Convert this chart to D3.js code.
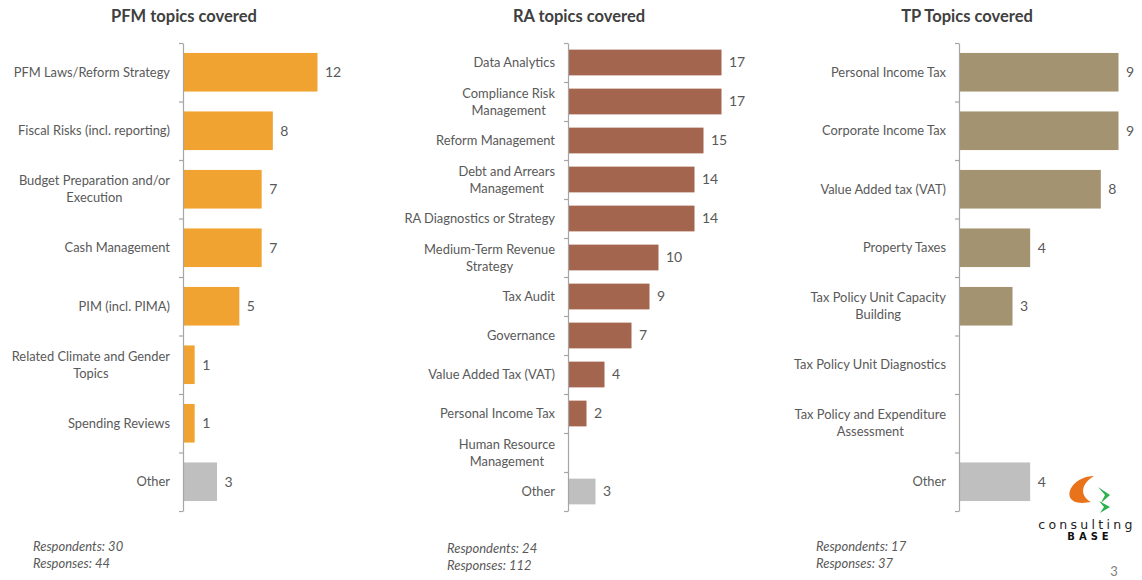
<!DOCTYPE html>
<html>
<head>
<meta charset="utf-8">
<script src="https://cdn.jsdelivr.net/npm/d3@7"></script>
<style>
  html, body { margin: 0; padding: 0; background: #ffffff; }
  svg { display: block; font-family: Lato, "Open Sans", sans-serif; }
</style>
</head>
<body>
<svg id="chart" width="1142" height="580"></svg>
<script>
// ---- Data -------------------------------------------------------------
const pfmCategories = [
  "PFM Laws/Reform Strategy",
  "Fiscal Risks (incl. reporting)",
  "Budget Preparation and/or|Execution",
  "Cash Management",
  "PIM (incl. PIMA)",
  "Related Climate and Gender|Topics",
  "Spending Reviews",
  "Other"
];
const pfmValues = [12, 8, 7, 7, 5, 1, 1, 3];

const raCategories = [
  "Data Analytics",
  "Compliance Risk|Management",
  "Reform Management",
  "Debt and Arrears|Management",
  "RA Diagnostics or Strategy",
  "Medium-Term Revenue|Strategy",
  "Tax Audit",
  "Governance",
  "Value Added Tax (VAT)",
  "Personal Income Tax",
  "Human Resource|Management",
  "Other"
];
const raValues = [17, 17, 15, 14, 14, 10, 9, 7, 4, 2, 0, 3];

const tpCategories = [
  "Personal Income Tax",
  "Corporate Income Tax",
  "Value Added tax (VAT)",
  "Property Taxes",
  "Tax Policy Unit Capacity|Building",
  "Tax Policy Unit Diagnostics",
  "Tax Policy and Expenditure|Assessment",
  "Other"
];
const tpValues = [9, 9, 8, 4, 3, 0, 0, 4];

const titles = ["PFM topics covered", "RA topics covered", "TP Topics covered"];
const respondents = [30, 24, 17];
const responses = [44, 112, 37];

// ---- Layout -----------------------------------------------------------
const svg = d3.select("#chart");
const TEXT = "#595959";
const OTHER_FILL = "#bfbfbf";

const panels = [
  { cats: pfmCategories, vals: pfmValues, title: titles[0], color: "#f0a330",
    axisX: 183, barSpan: 134, titleX: 184, noteX: 33, noteY: 551, resp: respondents[0], n: responses[0] },
  { cats: raCategories, vals: raValues, title: titles[1], color: "#a4654e",
    axisX: 568, barSpan: 153, titleX: 579, noteX: 447, noteY: 553, resp: respondents[1], n: responses[1] },
  { cats: tpCategories, vals: tpValues, title: titles[2], color: "#a39371",
    axisX: 959, barSpan: 159, titleX: 967, noteX: 816, noteY: 551, resp: respondents[2], n: responses[2] }
];

const TOP = 43, BOTTOM = 511;

panels.forEach(p => {
  const g = svg.append("g");

  const y = d3.scaleBand()
    .domain(p.cats)
    .range([TOP, BOTTOM])
    .paddingInner(0.34)
    .paddingOuter(0.17);

  const x = d3.scaleLinear()
    .domain([0, d3.max(p.vals)])
    .range([p.axisX, p.axisX + p.barSpan]);

  // title
  g.append("text")
    .attr("x", p.titleX).attr("y", 22)
    .attr("text-anchor", "middle")
    .attr("font-size", 16.5).attr("font-weight", 700)
    .attr("fill", "#404040")
    .text(p.title);

  // bars
  const rows = p.cats.map((c, i) => ({ cat: c, val: p.vals[i] }));
  g.selectAll("rect.bar").data(rows).enter().append("rect")
    .attr("class", "bar")
    .attr("x", x(0) + 0.5)
    .attr("y", d => y(d.cat))
    .attr("width", d => Math.max(0, x(d.val) - x(0)))
    .attr("height", y.bandwidth())
    .attr("fill", d => d.cat === "Other" ? OTHER_FILL : p.color);

  // value labels
  g.selectAll("text.val").data(rows.filter(d => d.val > 0)).enter().append("text")
    .attr("class", "val")
    .attr("x", d => x(d.val) + 8)
    .attr("y", d => y(d.cat) + y.bandwidth() / 2)
    .attr("dy", "0.35em")
    .attr("font-size", 14)
    .attr("fill", TEXT)
    .text(d => d.val);

  // vertical axis with ticks at the category boundaries
  const edge = d3.scaleLinear().domain([0, p.cats.length]).range([TOP, BOTTOM]);
  const axis = g.append("g")
    .attr("transform", `translate(${p.axisX},0)`)
    .call(d3.axisLeft(edge)
      .tickValues(d3.range(p.cats.length + 1))
      .tickSize(4)
      .tickSizeOuter(0)
      .tickFormat(""));
  axis.select(".domain").attr("stroke", "#a6a6a6").attr("stroke-width", 1.2);
  axis.selectAll(".tick line").attr("stroke", "#a6a6a6").attr("stroke-width", 1.2);

  // category labels (multi-line blocks, lines centred within each block)
  const labelRight = p.axisX - 13;
  rows.forEach(d => {
    const lines = d.cat.split("|");
    const cy = y(d.cat) + y.bandwidth() / 2;
    const lh = 17;
    const t = g.append("text")
      .attr("font-size", 12.9)
      .attr("fill", TEXT)
      .attr("text-anchor", "middle");
    const spans = lines.map((ln, k) => t.append("tspan")
      .attr("y", cy + (k - (lines.length - 1) / 2) * lh)
      .attr("dy", "0.35em")
      .text(ln));
    const w = d3.max(spans, s => s.node().getComputedTextLength());
    spans.forEach(s => s.attr("x", labelRight - w / 2));
  });

  // respondent notes
  const note = g.append("text")
    .attr("font-size", 13).attr("font-style", "italic").attr("fill", TEXT);
  note.append("tspan").attr("x", p.noteX).attr("y", p.noteY).text(`Respondents: ${p.resp}`);
  note.append("tspan").attr("x", p.noteX).attr("y", p.noteY + 17).text(`Responses: ${p.n}`);
});

// ---- Logo -------------------------------------------------------------
const logo = svg.append("g").attr("transform", "translate(1068,476)");
// orange crescent
logo.append("path")
  .attr("d", "M26,0 C8,0 -4,16 4,24 C9,28 17,27 23,26 C13,21 11,9 26,0 Z")
  .attr("fill", "#e8731a");
// green chevrons
logo.append("path")
  .attr("d", "M30,11 L42,19 L33,27 L37,19 Z")
  .attr("fill", "#2bb24c");
logo.append("path")
  .attr("d", "M31,25 L42,31 L32,37 L36,31 Z")
  .attr("fill", "#2bb24c");
svg.append("text")
  .attr("x", 1087).attr("y", 529)
  .attr("text-anchor", "middle")
  .attr("font-size", 12.5).attr("letter-spacing", 3.3)
  .attr("font-family", "'DejaVu Sans', sans-serif")
  .attr("fill", "#222222")
  .text("consulting");
svg.append("text")
  .attr("x", 1090).attr("y", 540)
  .attr("text-anchor", "middle")
  .attr("font-size", 10).attr("font-weight", 900).attr("letter-spacing", 4)
  .attr("font-family", "'DejaVu Sans', sans-serif")
  .attr("fill", "#111111")
  .text("BASE");

// page number
svg.append("text")
  .attr("x", 1114).attr("y", 576)
  .attr("text-anchor", "middle")
  .attr("font-size", 13).attr("fill", "#7f7f7f")
  .text("3");
</script>
</body>
</html>
